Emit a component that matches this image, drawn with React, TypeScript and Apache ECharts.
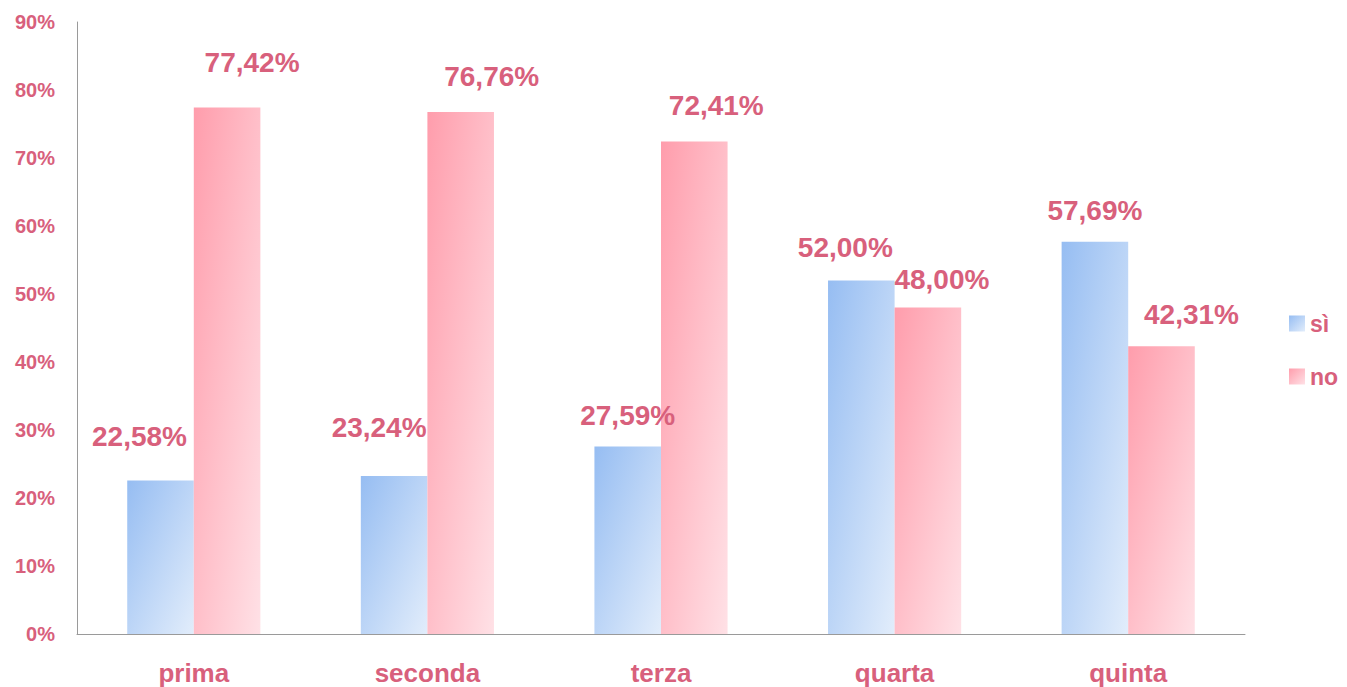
import React, { useEffect, useRef } from "react";
import * as echarts from "echarts";

const categories = ["prima", "seconda", "terza", "quarta", "quinta"];
const seriesNames = ["sì", "no"];
const siValues = [22.58, 23.24, 27.59, 52.0, 57.69];
const noValues = [77.42, 76.76, 72.41, 48.0, 42.31];
const yTicks = { min: 0, max: 90, interval: 10 };

// label placement tweaks (style only)
const siLabelOffsets = [[-21, -25], [-15, -29], [0, -12], [-16, -14], [0, -12]];
const noLabelOffsets = [[25, -26], [31, -17], [22, -17], [14, -9], [30, -13]];

const PINK_TEXT = "#D8607C";
const FONT = "'Liberation Sans', Arial, sans-serif";

const blueGrad = () =>
  new echarts.graphic.LinearGradient(0, 0, 1, 1, [
    { offset: 0, color: "#96BDF2" },
    { offset: 1, color: "#E2EDFB" },
  ]);
const pinkGrad = () =>
  new echarts.graphic.LinearGradient(0, 0, 1, 1, [
    { offset: 0, color: "#FF9DAC" },
    { offset: 1, color: "#FFE1E6" },
  ]);

const fmt = (v: number) => v.toFixed(2).replace(".", ",") + "%";

export default function App() {
  const ref = useRef<HTMLDivElement>(null);
  useEffect(() => {
    if (!ref.current) return;
    const chart = echarts.init(ref.current, undefined, { renderer: "svg" });
    const mkData = (vals: number[], offs: number[][]) =>
      vals.map((v, i) => ({
        value: v,
        label: { offset: offs[i] },
      }));
    const labelStyle = {
      show: true,
      position: "top",
      color: PINK_TEXT,
      fontSize: 28,
      fontWeight: "bold",
      fontFamily: FONT,
      formatter: (p: any) => fmt(p.value),
    };
    chart.setOption({
      animation: false,
      backgroundColor: "#ffffff",
      grid: { left: 77, right: 102, top: 22, bottom: 53, containLabel: false },
      legend: {
        orient: "vertical",
        left: 1284,
        top: 307,
        itemWidth: 16,
        itemHeight: 16,
        itemGap: 30,
        itemTextGap: 7,
        icon: "rect",
        data: seriesNames,
        textStyle: {
          color: PINK_TEXT,
          fontSize: 23,
          fontWeight: "bold",
          fontFamily: FONT,
        },
      },
      xAxis: {
        type: "category",
        data: categories,
        axisLine: { show: true, lineStyle: { color: "#9a9a9a", width: 1 } },
        axisTick: { show: false },
        axisLabel: {
          color: PINK_TEXT,
          fontSize: 26,
          fontWeight: "bold",
          fontFamily: FONT,
          margin: 26,
        },
      },
      yAxis: {
        type: "value",
        min: yTicks.min,
        max: yTicks.max,
        interval: yTicks.interval,
        axisLine: { show: true, lineStyle: { color: "#9a9a9a", width: 1 } },
        axisTick: { show: false },
        splitLine: { show: false },
        axisLabel: {
          formatter: "{value}%",
          color: PINK_TEXT,
          fontSize: 20,
          fontWeight: "bold",
          fontFamily: FONT,
          margin: 22,
        },
      },
      series: [
        {
          name: seriesNames[0],
          type: "bar",
          data: mkData(siValues, siLabelOffsets),
          barGap: "0%",
          barCategoryGap: "43%",
          itemStyle: { color: blueGrad() },
          label: labelStyle,
        },
        {
          name: seriesNames[1],
          type: "bar",
          data: mkData(noValues, noLabelOffsets),
          barGap: "0%",
          barCategoryGap: "43%",
          itemStyle: { color: pinkGrad() },
          label: labelStyle,
        },
      ],
    });
    return () => chart.dispose();
  }, []);
  return (
    <div
      ref={ref}
      style={{ position: "fixed", left: 0, top: 0, width: 1347, height: 687 }}
    />
  );
}
